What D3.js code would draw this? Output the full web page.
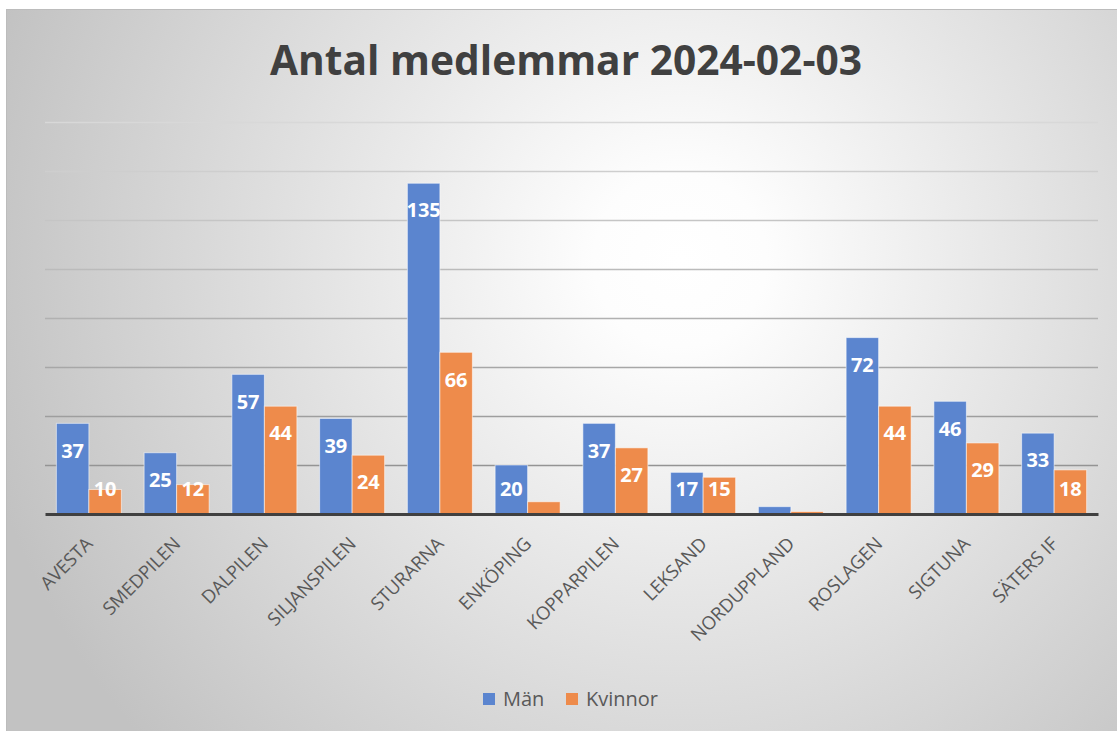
<!DOCTYPE html>
<html>
<head>
<meta charset="utf-8">
<script src="https://cdn.jsdelivr.net/npm/d3@7"></script>
<style>
  html, body { margin: 0; padding: 0; background: #fff; }
  svg { display: block; font-family: 'Open Sans', sans-serif; }
</style>
</head>
<body>
<svg id="chart" width="1117" height="731"></svg>
<script>
// data
const categories = ['AVESTA', 'SMEDPILEN', 'DALPILEN', 'SILJANSPILEN', 'STURARNA', 'ENKÖPING',
    'KOPPARPILEN', 'LEKSAND', 'NORDUPPLAND', 'ROSLAGEN', 'SIGTUNA', 'SÄTERS IF'];
const men   = [37, 25, 57, 39, 135, 20, 37, 17, 3, 72, 46, 33];
const women = [10, 12, 44, 24, 66, 5, 27, 15, 1, 44, 29, 18];
const seriesNames = ['Män', 'Kvinnor'];
const seriesColors = ['#5b85cf', '#ee8b4b'];
const yTicks = [20, 40, 60, 80, 100, 120, 140, 160];
const title = 'Antal medlemmar 2024-02-03';

const svg = d3.select('#chart');
const W = 1117, H = 731;
const margin = {top: 122, right: 19, bottom: 217, left: 45};

// background card with radial gradient
const defs = svg.append('defs');
const grad = defs.append('radialGradient')
    .attr('id', 'bg')
    .attr('gradientUnits', 'userSpaceOnUse')
    .attr('cx', 680).attr('cy', 260).attr('r', 720);
grad.append('stop').attr('offset', '0%').attr('stop-color', '#ffffff');
grad.append('stop').attr('offset', '12%').attr('stop-color', '#fdfdfd');
grad.append('stop').attr('offset', '100%').attr('stop-color', '#c2c2c2');

svg.append('rect')
    .attr('x', 6.5).attr('y', 9.5)
    .attr('width', W).attr('height', H)
    .attr('fill', 'url(#bg)')
    .attr('stroke', '#bcbcbc')
    .attr('stroke-width', 1);

// scales
const x0 = d3.scaleBand()
    .domain(categories)
    .range([margin.left, W - margin.right]);

const x1 = d3.scaleBand()
    .domain(seriesNames)
    .range([0, x0.bandwidth()])
    .paddingOuter(0.35);

const y = d3.scaleLinear()
    .domain([0, 160])
    .range([H - margin.bottom, margin.top]);

// gridlines, fading lighter towards the top
const gridColor = d3.interpolateRgb('#8a8a8a', '#d8d8d8');
svg.append('g')
    .attr('class', 'grid')
    .selectAll('line')
    .data(yTicks)
    .join('line')
        .attr('x1', margin.left)
        .attr('x2', W - margin.right)
        .attr('y1', d => Math.round(y(d)) + 0.5)
        .attr('y2', d => Math.round(y(d)) + 0.5)
        .attr('stroke', d => gridColor(d / 160))
        .attr('stroke-width', 1.5);

// bars
const rows = categories.map((c, i) => ({cat: c, values: [men[i], women[i]]}));

const groups = svg.append('g')
    .selectAll('g')
    .data(rows)
    .join('g')
        .attr('transform', d => `translate(${x0(d.cat)},0)`);

groups.selectAll('rect')
    .data(d => d.values.map((v, j) => ({key: seriesNames[j], value: v, j: j})))
    .join('rect')
        .attr('x', d => x1(d.key))
        .attr('y', d => y(d.value))
        .attr('width', x1.bandwidth())
        .attr('height', d => y(0) - y(d.value))
        .attr('fill', d => seriesColors[d.j])
        .attr('stroke', 'rgba(255,255,255,0.55)')
        .attr('stroke-width', 1);

// data labels (inside end, kept above the axis)
groups.selectAll('text')
    .data(d => d.values.map((v, j) => ({key: seriesNames[j], value: v})).filter(d => d.value >= 8))
    .join('text')
        .attr('x', d => x1(d.key) + x1.bandwidth() / 2)
        .attr('y', d => Math.min(y(d.value) + 27, y(0) - 25))
        .attr('dy', '0.36em')
        .attr('text-anchor', 'middle')
        .attr('fill', '#ffffff')
        .attr('font-weight', 'bold')
        .attr('font-size', '20px')
        .text(d => d.value);

// x axis
const xAxis = svg.append('g')
    .attr('transform', `translate(0,${y(0)})`)
    .call(d3.axisBottom(x0).tickSize(0).tickSizeOuter(0));

xAxis.select('.domain')
    .attr('stroke', '#404040')
    .attr('stroke-width', 3);

xAxis.selectAll('text')
    .attr('x', 0).attr('y', 0).attr('dy', 0)
    .attr('text-anchor', 'end')
    .attr('transform', 'translate(5,31) rotate(-45)')
    .attr('fill', '#595959')
    .attr('font-size', '18.5px')
    .attr('font-family', 'Open Sans, sans-serif');

// title
const titleText = svg.append('text')
    .attr('x', 566)
    .attr('y', 75)
    .attr('text-anchor', 'middle')
    .attr('fill', '#404040')
    .attr('font-weight', 'bold')
    .attr('font-size', '42px')
    .text(title);
titleText.attr('textLength', 592).attr('lengthAdjust', 'spacingAndGlyphs');

// legend
const legend = svg.append('g')
    .attr('transform', 'translate(483,699)');

const legendX = [0, 83];
seriesNames.forEach((name, i) => {
    const row = legend.append('g')
        .attr('transform', `translate(${legendX[i]},0)`);
    row.append('rect')
        .attr('x', 0).attr('y', -6)
        .attr('width', 12).attr('height', 12)
        .attr('fill', seriesColors[i]);
    row.append('text')
        .attr('x', 20)
        .attr('y', 0)
        .attr('dy', '0.36em')
        .attr('fill', '#595959')
        .attr('font-size', '20px')
        .text(name);
});
</script>
</body>
</html>
